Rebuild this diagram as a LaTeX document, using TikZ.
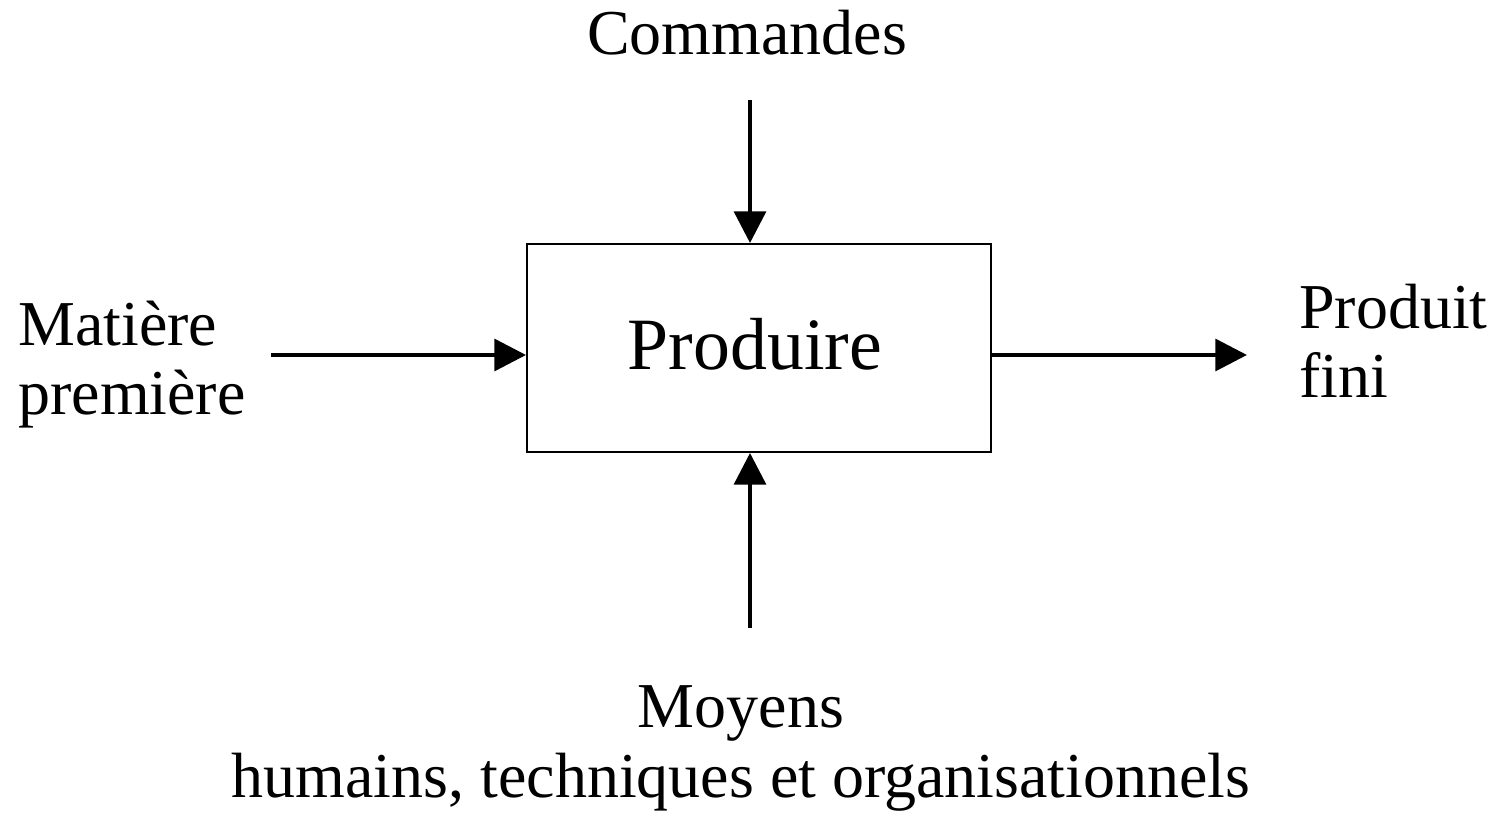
\documentclass[tikz,border=0pt]{standalone}
\usepackage{fontspec}
\setmainfont{Liberation Serif}
\usetikzlibrary{arrows.meta}
\begin{document}
\begin{tikzpicture}[x=0.02cm,y=-0.02cm,
  label/.style={inner sep=0pt,font=\fontsize{36.4}{39.5}\selectfont},
  flow/.style={line width=2.4pt,-{Triangle[length=18pt,width=18pt]}}]
  \useasboundingbox (0,0) rectangle (1501,813);
  % central activity box
  \node[draw,line width=1.1pt,minimum width=464*0.02cm,minimum height=208*0.02cm,
        inner sep=0pt] (box) at (759,348) {};
  \node[inner sep=0pt,font=\fontsize{42}{46}\selectfont,anchor=base] (title) at (755,370) {Produire};
  % labels around the box (multi-line nodes sit on their last baseline)
  \node[label,anchor=base] (cmd) at (747,55) {Commandes};
  \node[label,anchor=base west,align=left] (mat) at (18,415) {Matière\\première};
  \node[label,anchor=base west,align=left] (prod) at (1299,398) {Produit\\fini};
  \node[label,anchor=base,align=center] (moy) at (741,797) {Moyens\\humains, techniques et organisationnels};
  % connector endpoints
  \coordinate (cmdend) at (750,100);
  \coordinate (matend) at (271,355);
  \coordinate (prodend) at (1247,355);
  \coordinate (moyend) at (750,628);
  \draw[flow] (cmdend) -- (cmdend |- box.north);
  \draw[flow] (matend) -- (matend -| box.west);
  \draw[flow] (box.east |- prodend) -- (prodend);
  \draw[flow] (moyend) -- (moyend |- box.south);
\end{tikzpicture}
\end{document}
